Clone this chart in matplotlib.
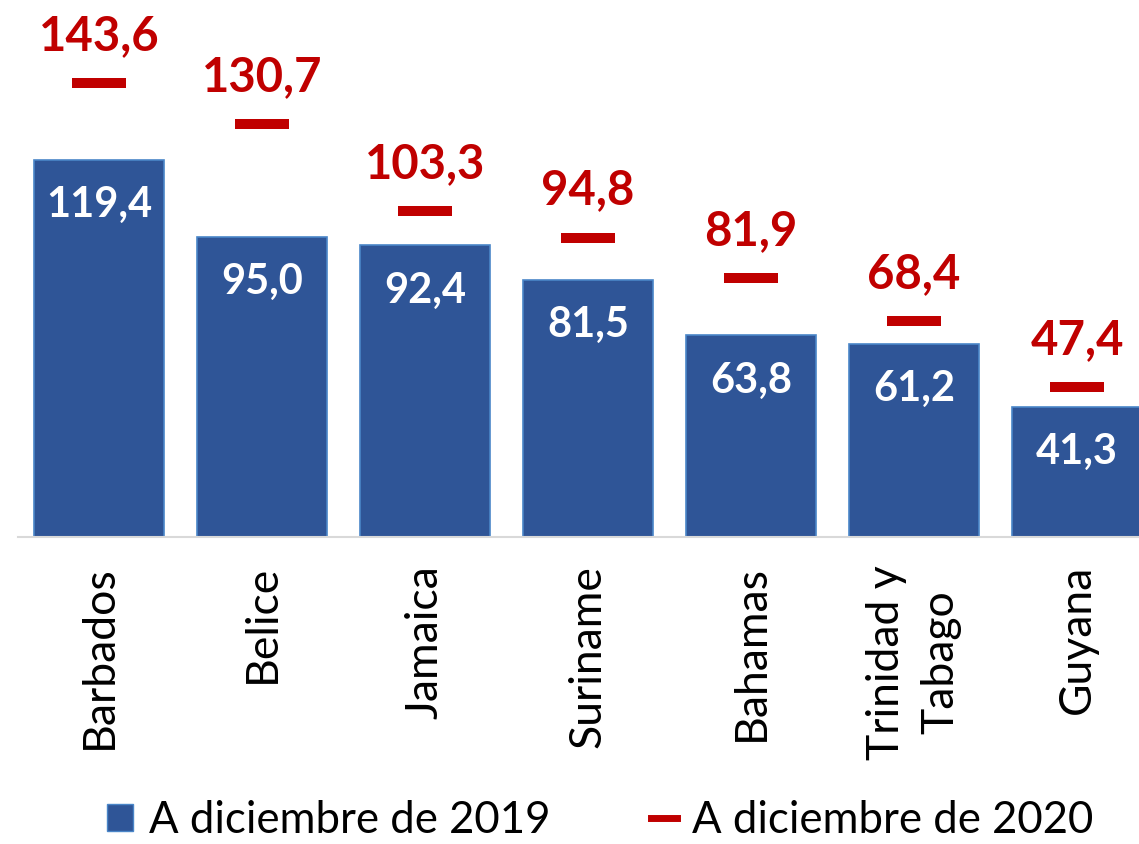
import matplotlib
matplotlib.use("Agg")
import matplotlib.pyplot as plt
from matplotlib.patches import Patch
from matplotlib.lines import Line2D
import numpy as np

categories = ["Barbados", "Belice", "Jamaica", "Suriname", "Bahamas", "Trinidad y\nTabago", "Guyana"]
values_2019 = [119.4, 95.0, 92.4, 81.5, 63.8, 61.2, 41.3]
values_2020 = [143.6, 130.7, 103.3, 94.8, 81.9, 68.4, 47.4]
series_labels = ["A diciembre de 2019", "A diciembre de 2020"]

FONT = "Lato"
BLUE = "#2F5597"
EDGE = "#4A86C8"
RED = "#C00000"

def fmt(v):
    return f"{v:.1f}".replace(".", ",")

fig = plt.figure(figsize=(11.39, 8.44), dpi=100)
ax = fig.add_axes([0.0154, 0.3637, 0.9846, 0.6363])

x = np.arange(len(categories))
ax.bar(x, values_2019, width=0.80, color=BLUE, edgecolor=EDGE, linewidth=1.2, zorder=2)
ax.hlines(values_2020, x - 0.166, x + 0.166, colors=RED, linewidth=7.2, zorder=3)

for xi, v in zip(x, values_2019):
    ax.annotate(fmt(v), (xi, v), xytext=(0, -19), textcoords="offset points",
                ha="center", va="top", color="white", fontsize=30,
                fontweight="bold", family=FONT)
for xi, v in zip(x, values_2020):
    ax.annotate(fmt(v), (xi, v), xytext=(0, 18), textcoords="offset points",
                ha="center", va="bottom", color=RED, fontsize=34,
                fontweight="bold", family=FONT)

ax.set_xlim(-0.5, 6.38)
ax.set_ylim(0, 170)
ax.set_xticks(x)
ax.tick_params(axis="x", length=0, pad=20)
ax.set_xticklabels(categories, rotation=90, fontsize=32, family=FONT,
                   va="top", ha="center", linespacing=1.4,
                   multialignment="center")
ax.set_yticks([])
for s in ["top", "right", "left"]:
    ax.spines[s].set_visible(False)
ax.spines["bottom"].set_color("#D9D9D9")
ax.spines["bottom"].set_linewidth(1.5)

handles = [Patch(facecolor=BLUE, edgecolor=EDGE, linewidth=1),
           Line2D([0], [0], color=RED, linewidth=5)]
leg = fig.legend(handles, series_labels, loc="center", bbox_to_anchor=(0.527, 0.028),
                 ncol=2, frameon=False, prop={"family": FONT, "size": 31.5},
                 handlelength=0.6, handleheight=0.6, handletextpad=0.35,
                 columnspacing=2.3, borderpad=0)

fig.savefig("out.png", dpi=100)
